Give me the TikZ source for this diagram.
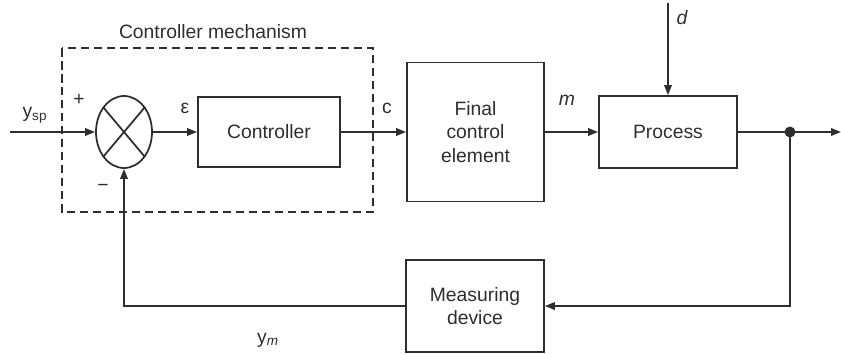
\documentclass[tikz,border=0pt]{standalone}
\usepackage{fontspec}
\setmainfont{Liberation Sans}
\usetikzlibrary{arrows.meta,shapes.geometric}
\definecolor{ink}{HTML}{2E2E2E}
\begin{document}
\begin{tikzpicture}[x=0.02cm,y=-0.02cm,
  font=\fontsize{11}{13.5}\selectfont, text=ink,
  blk/.style={draw=ink, line width=1pt, minimum width=#1, inner sep=0pt, align=center},
  conn/.style={draw=ink, line width=1pt, -{Triangle[length=0.2cm,width=0.15cm]}},
  plain/.style={draw=ink, line width=1pt},
  lbl/.style={inner sep=0pt}]
\useasboundingbox (0,0) rectangle (841,353);
% dashed controller mechanism box
\draw[ink, line width=0.9pt, dash pattern=on 0.17cm off 0.09cm] (62,48) rectangle (373,212);
\node[lbl] (cm) at (213,32) {Controller mechanism};
% blocks
\node[draw=ink, line width=1pt, ellipse, minimum width=1.12cm, minimum height=1.44cm, inner sep=0pt] (sum) at (124,132) {};
\draw[ink, line width=1pt] (sum.130) -- (sum.-50) (sum.50) -- (sum.230);
\node[blk=2.84cm, minimum height=1.40cm] (ctrl) at (269,132) {Controller};
\node[blk=2.74cm, minimum height=2.78cm] (fce) at (475.5,132) {Final\\control\\element};
\node[blk=2.76cm, minimum height=1.44cm] (proc) at (668,132) {Process};
\node[blk=2.76cm, minimum height=1.84cm] (meas) at (475,306) {Measuring\\device};
\node[circle, fill=ink, minimum size=0.22cm, inner sep=0pt] (dot) at (790,132) {};
% coordinates
\coordinate (in) at (10,132);
\coordinate (out) at (841,132);
\coordinate (dtop) at (668,3);
\coordinate (fr) at (790,306);
\coordinate (fl) at (124,306);
% connectors
\draw[conn] (in) -- (sum.west);
\draw[conn] (sum.east) -- (ctrl.west);
\draw[conn] (ctrl.east) -- (fce.west);
\draw[conn] (fce.east) -- (proc.west);
\draw[conn] (dtop) -- (proc.north);
\draw[plain] (proc.east) -- (dot.center);
\draw[conn] (dot.center) -- (out);
\draw[conn] (dot.center) -- (fr) -- (meas.east);
\draw[conn] (meas.west) -- (fl) -- (sum.south);
% labels
\node[lbl] (ysp) at (35,115) {y\textsubscript{sp}};
\node[lbl] (plus) at (79,100) {+};
\node[lbl] (minus) at (103,188) {−};
\node[lbl] (eps) at (185,108) {ε};
\node[lbl] (c) at (387,108) {c};
\node[lbl] (m) at (567,100) {\itshape m};
\node[lbl] (d) at (682,18) {\itshape d};
\node[lbl] (ym) at (268,340) {y\textsubscript{\itshape m}};
\end{tikzpicture}
\end{document}
